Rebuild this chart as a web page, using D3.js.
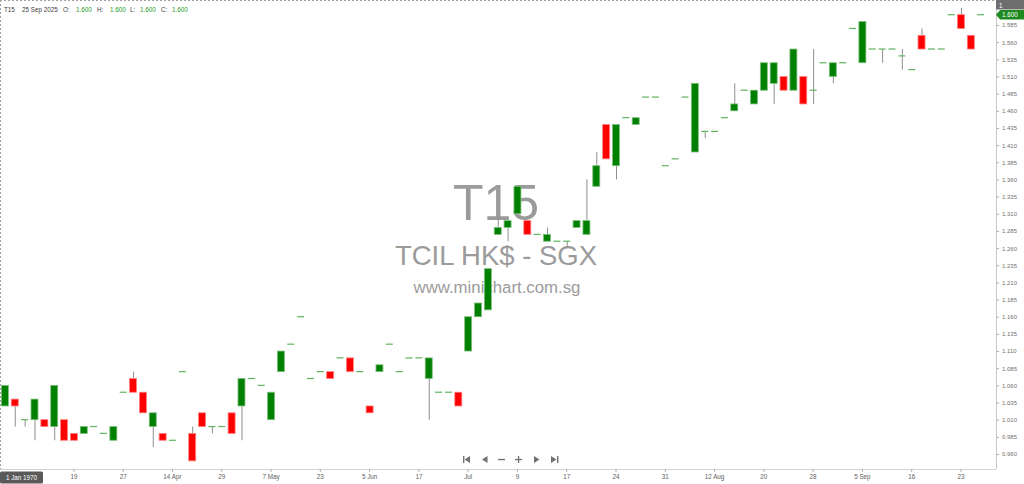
<!DOCTYPE html>
<html><head><meta charset="utf-8">
<script src="https://cdn.jsdelivr.net/npm/d3@7"></script>
<style>html,body{margin:0;padding:0;background:#fff;} svg{display:block;font-family:"Liberation Sans",Arial,sans-serif;}</style>
</head><body><svg id="c" width="1024" height="484"></svg>
<script>
// ---- data ----
const openP  = [1.03,1.04,1.01,1.01,1.01,1.00,1.01,0.99,0.99,1.00, 0.99,0.98,1.05,1.07,1.05,1.00,0.99,0.98,1.08,0.99,
                1.02,1.00,1.00,1.02,1.03,1.07,1.06,1.01,1.08,1.12, 1.16,1.07,1.08,1.08,1.10,1.10,1.08,1.03,1.08,1.12,
                1.08,1.10,1.10,1.07,1.05,1.05,1.05,1.11,1.16,1.17, 1.28,1.29,1.31,1.30,1.28,1.27,1.27,1.27,1.29,1.28,
                1.35,1.44,1.38,1.45,1.44,1.48,1.48,1.38,1.39,1.48, 1.40,1.43,1.43,1.45,1.46,1.49,1.47,1.49,1.50,1.51,
                1.49,1.51,1.49,1.53,1.51,1.53,1.58,1.53,1.55,1.55, 1.55,1.54,1.52,1.57,1.55,1.55,1.60,1.60,1.57,1.60];
const highP  = [1.06,1.04,1.01,1.04,1.01,1.06,1.01,0.99,1.00,1.00, 0.99,1.00,1.05,1.08,1.05,1.02,0.99,0.98,1.08,1.00,
                1.02,1.00,1.00,1.02,1.07,1.07,1.06,1.05,1.11,1.12, 1.16,1.07,1.08,1.08,1.10,1.10,1.08,1.03,1.09,1.12,
                1.08,1.10,1.10,1.10,1.05,1.05,1.05,1.16,1.18,1.23, 1.31,1.30,1.35,1.30,1.28,1.29,1.27,1.27,1.30,1.36,
                1.40,1.44,1.44,1.45,1.45,1.48,1.48,1.38,1.39,1.48, 1.50,1.43,1.43,1.45,1.50,1.49,1.49,1.53,1.53,1.51,
                1.55,1.51,1.55,1.53,1.53,1.53,1.58,1.59,1.55,1.55, 1.55,1.55,1.52,1.58,1.55,1.55,1.60,1.61,1.57,1.60];
const lowP   = [1.03,1.00,1.00,0.98,1.00,0.98,0.98,0.98,0.99,1.00, 0.99,0.98,1.05,1.05,1.02,0.97,0.98,0.98,1.08,0.95,
                1.00,0.99,1.00,0.99,0.98,1.07,1.06,1.01,1.08,1.12, 1.16,1.07,1.08,1.07,1.10,1.08,1.08,1.02,1.08,1.12,
                1.08,1.10,1.10,1.01,1.05,1.05,1.03,1.11,1.16,1.17, 1.28,1.27,1.31,1.28,1.28,1.27,1.27,1.26,1.29,1.28,
                1.35,1.39,1.36,1.45,1.44,1.48,1.48,1.38,1.39,1.48, 1.40,1.42,1.43,1.45,1.46,1.49,1.47,1.49,1.47,1.49,
                1.49,1.47,1.47,1.53,1.50,1.53,1.58,1.53,1.55,1.53, 1.55,1.52,1.52,1.55,1.55,1.55,1.60,1.58,1.55,1.60];
const closeP = [1.06,1.03,1.01,1.04,1.00,1.06,0.98,0.98,1.00,1.00, 0.99,1.00,1.05,1.05,1.02,1.02,0.98,0.98,1.08,0.95,
                1.00,1.00,1.00,0.99,1.07,1.07,1.06,1.05,1.11,1.12, 1.16,1.07,1.08,1.07,1.10,1.08,1.08,1.02,1.09,1.12,
                1.08,1.10,1.10,1.10,1.05,1.05,1.03,1.16,1.18,1.23, 1.29,1.30,1.35,1.28,1.28,1.28,1.27,1.27,1.30,1.30,
                1.38,1.39,1.44,1.45,1.45,1.48,1.48,1.38,1.39,1.48, 1.50,1.43,1.43,1.45,1.47,1.49,1.49,1.53,1.53,1.49,
                1.55,1.47,1.49,1.53,1.53,1.53,1.58,1.59,1.55,1.55, 1.55,1.54,1.52,1.55,1.55,1.55,1.60,1.58,1.55,1.60];
const tickCandles = [7,12,17,22,27,32,37,42,47,52,57,62,67,72,77,82,87,92,97];
const tickLabels  = ["19","27","14 Apr","29","7 May","23","5 Jun","17","Jul","9","17","24","31","12 Aug","20","28","5 Sep","16","23"];
const priceTicks  = d3.range(0, 26).map(i => 0.96 + 0.025 * i);
const header = {sym:"T15", date:"25 Sep 2025", o:"1.600", h:"1.600", l:"1.600", c:"1.600"};
const lastPrice = 1.600;

// ---- chart ----
const svg = d3.select("#c");
const n = openP.length;
const plotRight = 996, plotBottom = 469;
const x = d3.scaleBand().domain(d3.range(n)).range([0, 985.6]);
const y = d3.scaleLinear().domain([0.96, 1.585]).range([454, 25]);
const cx = i => x(i) + x.bandwidth() / 2;
const bw = 7;

// borders
svg.append("line").attr("x1",0).attr("x2",plotRight).attr("y1",0.5).attr("y2",0.5)
  .attr("stroke","#a0a0a0").attr("stroke-dasharray","2,2");
svg.append("line").attr("x1",0.5).attr("x2",0.5).attr("y1",0).attr("y2",plotBottom)
  .attr("stroke","#a0a0a0").attr("stroke-dasharray","2,2");

// watermark
const wm = svg.append("g").attr("fill","#9b9b9b").attr("text-anchor","middle");
wm.append("text").attr("x",496).attr("y",220).attr("font-size",50).text("T15");
wm.append("text").attr("x",496).attr("y",265).attr("font-size",27.5).text("TCIL HK$ - SGX");
wm.append("text").attr("x",497).attr("y",293).attr("font-size",16.8).text("www.minichart.com.sg");

// candles
const data = d3.range(n).map(i => ({i, o:openP[i], h:highP[i], l:lowP[i], c:closeP[i]}));
const g = svg.append("g");
g.selectAll("line.wick").data(data.filter(d => d.h > Math.max(d.o,d.c) || d.l < Math.min(d.o,d.c)))
  .join("line").attr("class","wick")
  .attr("x1", d => cx(d.i) + 0.5).attr("x2", d => cx(d.i) + 0.5)
  .attr("y1", d => y(d.h)).attr("y2", d => y(d.l))
  .attr("stroke","#8f8f8f").attr("stroke-width",1);
const bodies = data.filter(d => d.o !== d.c);
g.selectAll("rect.body").data(bodies).join("rect").attr("class","body")
  .attr("x", d => cx(d.i) - bw/2).attr("width", bw)
  .attr("y", d => y(Math.max(d.o,d.c))).attr("height", d => Math.max(1, y(Math.min(d.o,d.c)) - y(Math.max(d.o,d.c))))
  .attr("fill", d => d.c > d.o ? "#008000" : "#ff0000")
  .attr("stroke", d => d.c > d.o ? "#7fbf7f" : "#ff8080").attr("stroke-width",0.8);
g.selectAll("line.doji").data(data.filter(d => d.o === d.c)).join("line").attr("class","doji")
  .attr("x1", d => cx(d.i) - bw/2).attr("x2", d => cx(d.i) + bw/2)
  .attr("y1", d => y(d.o)).attr("y2", d => y(d.o))
  .attr("stroke","#5fb35f").attr("stroke-width",1.2);

// y axis
const ya = svg.append("g").attr("transform",`translate(${plotRight},0)`)
  .call(d3.axisRight(y).tickValues(priceTicks).tickFormat(d3.format(".3f")).tickSize(3).tickPadding(3));
ya.select(".domain").attr("stroke","#c8c8c8").attr("d",`M0.5,0V${plotBottom}`);
ya.selectAll(".tick line").attr("stroke","#b0b0b0");
ya.selectAll(".tick text").attr("fill","#707070").attr("font-size",6).attr("font-family","Liberation Sans, Arial, sans-serif");

// x axis
const xa = svg.append("g").attr("transform",`translate(0,${plotBottom})`)
  .call(d3.axisBottom(x).tickValues(tickCandles).tickFormat((d,k) => tickLabels[k]).tickSize(3).tickPadding(3));
xa.select(".domain").attr("stroke","#d0d0d0").attr("d",`M0,0.5H${plotRight}`);
xa.selectAll(".tick line").attr("stroke","#b0b0b0");
xa.selectAll(".tick text").attr("fill","#606060").attr("font-size",6.3).attr("font-family","Liberation Sans, Arial, sans-serif");

// header
const hd = svg.append("text").attr("y",12).attr("font-size",6.3).attr("fill","#404040");
const parts = [[4,header.sym,"#404040"],[22,header.date,"#404040"],[63,"O:","#404040"],[76,header.o,"#1e9a1e"],
  [97,"H:","#404040"],[110,header.h,"#1e9a1e"],[130,"L:","#404040"],[140,header.l,"#1e9a1e"],
  [161,"C:","#404040"],[172,header.c,"#1e9a1e"]];
parts.forEach(p => hd.append("tspan").attr("x",p[0]).attr("fill",p[2]).text(p[1]));

// top-right boxes
svg.append("rect").attr("x",996).attr("y",0).attr("width",28).attr("height",9.5).attr("fill","#6e6e6e");
svg.append("text").attr("x",999).attr("y",7.5).attr("font-size",6.3).attr("fill","#fff").text("1");
const py = y(lastPrice);
svg.append("path").attr("d",`M996,${py}L1000,${py-4.7}H1024V${py+4.7}H1000Z`).attr("fill","#1f8a1f");
svg.append("text").attr("x",1002).attr("y",py+2.2).attr("font-size",6.3).attr("fill","#fff").text(lastPrice.toFixed(3));

// crosshair date box
svg.append("rect").attr("x",0).attr("y",471.5).attr("width",43).attr("height",12).attr("rx",1.5).attr("fill","#5a5a5a");
svg.append("text").attr("x",21.5).attr("y",479.8).attr("text-anchor","middle").attr("font-size",6.3).attr("fill","#fff").text("1 Jan 1970");

// navigation icons
const nav = svg.append("g").attr("fill","#707070");
const cy = 459.5;
nav.append("rect").attr("x",463).attr("y",cy-3.5).attr("width",1.4).attr("height",7);
nav.append("path").attr("d",`M470,${cy-3.5}V${cy+3.5}L464.5,${cy}Z`);
nav.append("path").attr("d",`M487.5,${cy-3.5}V${cy+3.5}L482,${cy}Z`);
nav.append("rect").attr("x",498).attr("y",cy-0.6).attr("width",7).attr("height",1.3);
nav.append("rect").attr("x",515).attr("y",cy-0.6).attr("width",7).attr("height",1.3);
nav.append("rect").attr("x",517.9).attr("y",cy-3.5).attr("width",1.3).attr("height",7);
nav.append("path").attr("d",`M534,${cy-3.5}V${cy+3.5}L539.5,${cy}Z`);
nav.append("path").attr("d",`M551,${cy-3.5}V${cy+3.5}L556.5,${cy}Z`);
nav.append("rect").attr("x",557).attr("y",cy-3.5).attr("width",1.4).attr("height",7);
</script></body></html>
